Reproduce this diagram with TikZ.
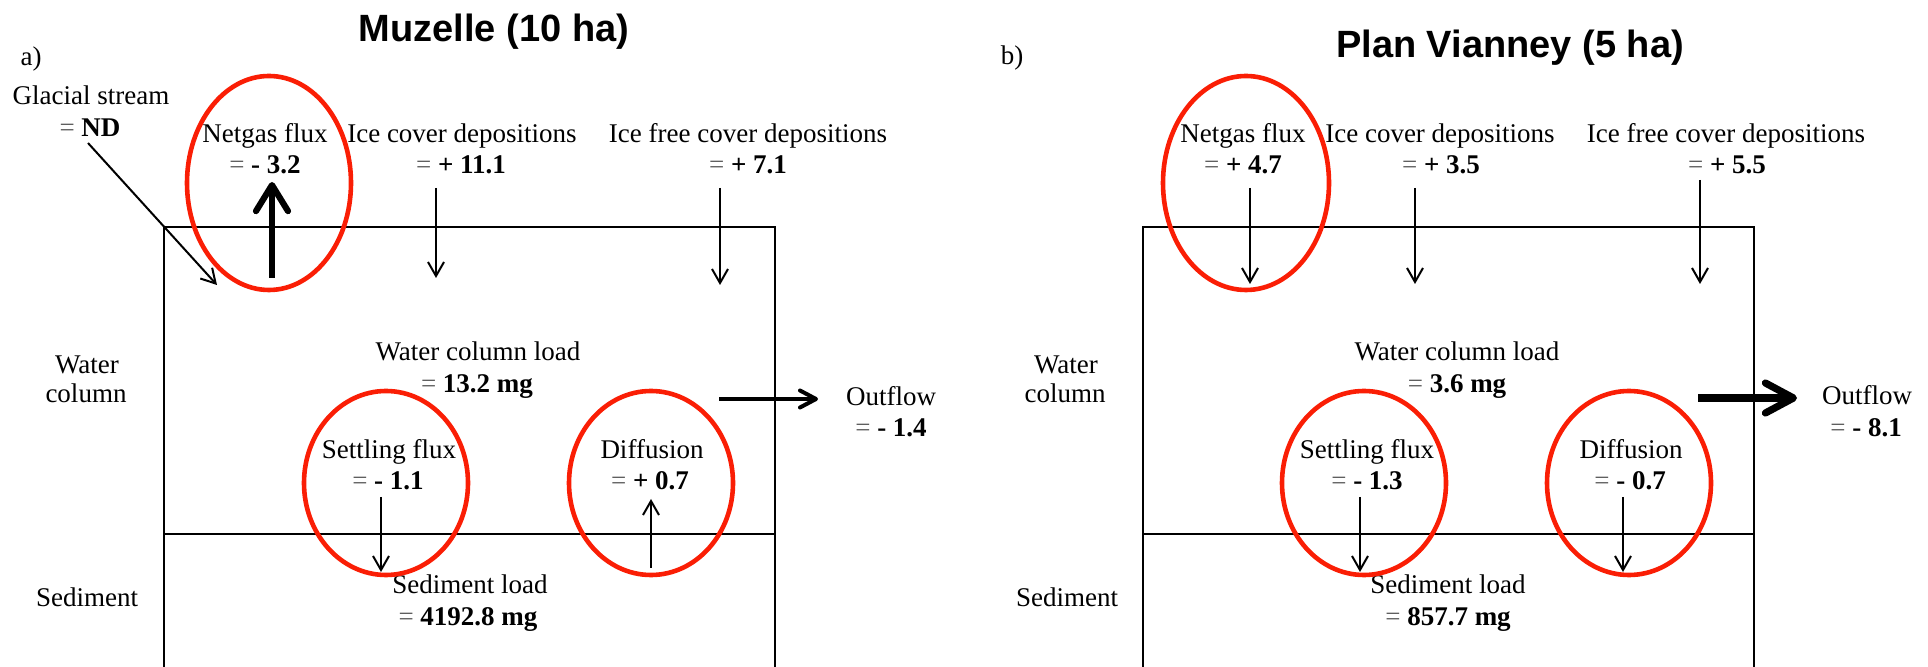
\documentclass[tikz,border=0pt]{standalone}
\usepackage{fontspec}
\setmainfont{Liberation Serif}
\newfontfamily\titlefont{Liberation Sans}
\usetikzlibrary{arrows.meta}
\definecolor{ringred}{RGB}{250,30,5}
\definecolor{eqgray}{RGB}{95,95,95}
\newcommand{\eqs}{{\color{eqgray}=}}
\tikzset{
  lbl/.style={font=\fontsize{13.5}{16}\selectfont, inner sep=0pt, anchor=base},
  ttl/.style={font=\titlefont\bfseries\fontsize{19}{22}\selectfont, inner sep=0pt, anchor=base},
  boxline/.style={line width=1.1pt},
  ring/.style={draw=ringred, line width=2.3pt},
  thinarrow/.style={line width=1pt, -{Straight Barb[length=7pt,width=8pt]}},
  medarrow/.style={line width=2pt, -{Straight Barb[length=8pt,width=8.5pt,round]}},
  thickarrow/.style={line width=3.1pt, -{Straight Barb[length=13pt,width=16pt,round]}},
  thickerarrow/.style={line width=3.6pt, -{Straight Barb[length=14pt,width=15pt,round]}}
}
\begin{document}
\begin{tikzpicture}[x=0.5pt,y=-0.5pt]
\useasboundingbox (0,0) rectangle (1928,667);
% ================= Panel a =================
\node[ttl] (titleA) at (494,42) {Muzelle (10 ha)};
\node[lbl] (panA) at (31,66) {a)};
\node[lbl] (glac) at (91,105) {Glacial stream};
\node[lbl] (glacv) at (90,137) {\eqs{} \textbf{ND}};
\node[lbl] (netA) at (265,143) {Netgas flux};
\node[lbl] (netAv) at (265,174) {\eqs{} \textbf{- 3.2}};
\node[lbl] (iceA) at (462,143) {Ice cover depositions};
\node[lbl] (iceAv) at (461,174) {\eqs{} \textbf{+ 11.1}};
\node[lbl] (freeA) at (748,143) {Ice free cover depositions};
\node[lbl] (freeAv) at (748,174) {\eqs{} \textbf{+ 7.1}};
\node[lbl] (wclA) at (478,361) {Water column load};
\node[lbl] (wclAv) at (477,393) {\eqs{} \textbf{13.2 mg}};
\node[lbl] (setA) at (389,459) {Settling flux};
\node[lbl] (setAv) at (388,490) {\eqs{} \textbf{- 1.1}};
\node[lbl] (difA) at (652,459) {Diffusion};
\node[lbl] (difAv) at (650,490) {\eqs{} \textbf{+ 0.7}};
\node[lbl] (outA) at (891,406) {Outflow};
\node[lbl] (outAv) at (891,437) {\eqs{} \textbf{- 1.4}};
\node[lbl] (watA) at (87,374) {Water};
\node[lbl] (colA) at (86,403) {column};
\node[lbl] (sedA) at (87,607) {Sediment};
\node[lbl] (sldA) at (470,594) {Sediment load};
\node[lbl] (sldAv) at (468,626) {\eqs{} \textbf{4192.8 mg}};
% box
\draw[boxline] (164,667) -- (164,227) -- (775,227) -- (775,667);
\draw[boxline] (164,534) -- (775,534);
% rings
\draw[ring] (269,183) ellipse [x radius=82, y radius=107];
\draw[ring] (386,483) ellipse [x radius=82, y radius=92];
\draw[ring] (651,483) ellipse [x radius=82, y radius=92];
% arrows
\coordinate (gA0) at (88,143); \coordinate (gA1) at (217,285);
\coordinate (nA0) at (272,278); \coordinate (nA1) at (272,182);
\coordinate (iA0) at (436,188); \coordinate (iA1) at (436,278);
\coordinate (fA0) at (720,188); \coordinate (fA1) at (720,285);
\coordinate (sA0) at (381,497); \coordinate (sA1) at (381,572);
\coordinate (dA0) at (651,568); \coordinate (dA1) at (651,499);
\coordinate (oA0) at (719,399); \coordinate (oA1) at (818,399);
\draw[thinarrow] (gA0) -- (gA1);
\draw[thickarrow] (nA0) -- (nA1);
\draw[thinarrow] (iA0) -- (iA1);
\draw[thinarrow] (fA0) -- (fA1);
\draw[thinarrow] (sA0) -- (sA1);
\draw[thinarrow] (dA0) -- (dA1);
\draw[medarrow] (oA0) -- (oA1);
% ================= Panel b =================
\node[ttl] (titleB) at (1510,58) {Plan Vianney (5 ha)};
\node[lbl] (panB) at (1012,65) {b)};
\node[lbl] (netB) at (1243,143) {Netgas flux};
\node[lbl] (netBv) at (1243,174) {\eqs{} \textbf{+ 4.7}};
\node[lbl] (iceB) at (1440,143) {Ice cover depositions};
\node[lbl] (iceBv) at (1441,174) {\eqs{} \textbf{+ 3.5}};
\node[lbl] (freeB) at (1726,143) {Ice free cover depositions};
\node[lbl] (freeBv) at (1727,174) {\eqs{} \textbf{+ 5.5}};
\node[lbl] (wclB) at (1457,361) {Water column load};
\node[lbl] (wclBv) at (1457,393) {\eqs{} \textbf{3.6 mg}};
\node[lbl] (setB) at (1367,459) {Settling flux};
\node[lbl] (setBv) at (1367,490) {\eqs{} \textbf{- 1.3}};
\node[lbl] (difB) at (1631,459) {Diffusion};
\node[lbl] (difBv) at (1630,490) {\eqs{} \textbf{- 0.7}};
\node[lbl] (outB) at (1867,405) {Outflow};
\node[lbl] (outBv) at (1866,437) {\eqs{} \textbf{- 8.1}};
\node[lbl] (watB) at (1066,374) {Water};
\node[lbl] (colB) at (1065,403) {column};
\node[lbl] (sedB) at (1067,607) {Sediment};
\node[lbl] (sldB) at (1448,594) {Sediment load};
\node[lbl] (sldBv) at (1448,626) {\eqs{} \textbf{857.7 mg}};
% box
\draw[boxline] (1143,667) -- (1143,227) -- (1754,227) -- (1754,667);
\draw[boxline] (1143,534) -- (1754,534);
% rings
\draw[ring] (1246,183) ellipse [x radius=83, y radius=107];
\draw[ring] (1364,483) ellipse [x radius=82, y radius=92];
\draw[ring] (1629,483) ellipse [x radius=82, y radius=92];
% arrows
\coordinate (nB0) at (1250,188); \coordinate (nB1) at (1250,284);
\coordinate (iB0) at (1415,188); \coordinate (iB1) at (1415,284);
\coordinate (fB0) at (1700,180); \coordinate (fB1) at (1700,284);
\coordinate (sB0) at (1360,497); \coordinate (sB1) at (1360,572);
\coordinate (dB0) at (1623,497); \coordinate (dB1) at (1623,572);
\coordinate (oB0) at (1698,398); \coordinate (oB1) at (1797,398);
\draw[thinarrow] (nB0) -- (nB1);
\draw[thinarrow] (iB0) -- (iB1);
\draw[thinarrow] (fB0) -- (fB1);
\draw[thinarrow] (sB0) -- (sB1);
\draw[thinarrow] (dB0) -- (dB1);
\draw[thickerarrow] (oB0) -- (oB1);
\end{tikzpicture}
\end{document}
